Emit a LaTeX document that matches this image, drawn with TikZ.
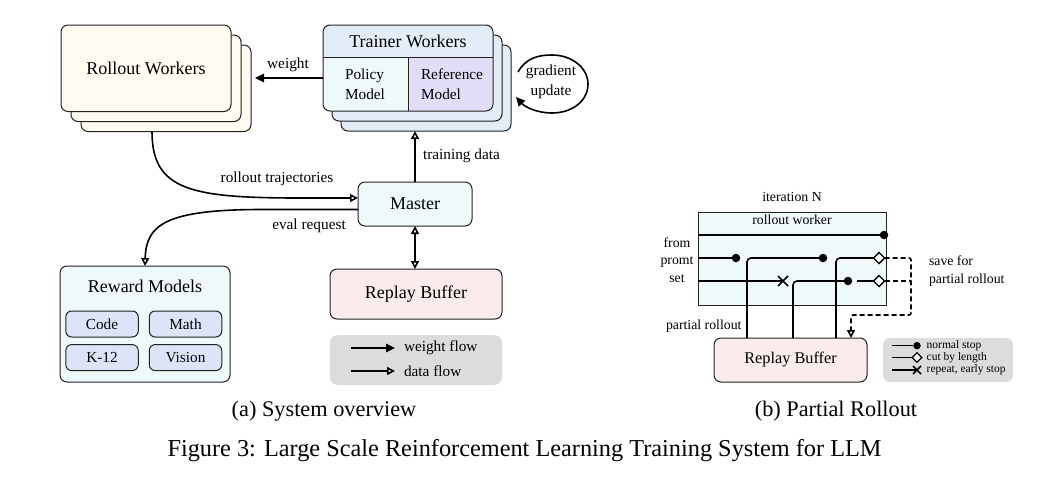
\documentclass[tikz,border=0pt]{standalone}
\usepackage{fontspec}
\setmainfont{Liberation Serif}
\usetikzlibrary{arrows.meta,shapes.geometric,shapes.misc,calc}
\definecolor{creambg}{HTML}{FFFBF0}
\definecolor{trhdr}{HTML}{E2EDF7}
\definecolor{cyanbg}{HTML}{F0F9F9}
\definecolor{refbg}{HTML}{E2DDF7}
\definecolor{subbg}{HTML}{DCE5F7}
\definecolor{pinkbg}{HTML}{FAECEA}
\definecolor{legbg}{HTML}{DCDCDC}
\definecolor{edge}{HTML}{222222}
\newcommand\myfA{\fontsize{18}{21}\selectfont}
\newcommand\myfB{\fontsize{15.3}{20}\selectfont}
\newcommand\myfC{\fontsize{13.8}{17.5}\selectfont}
\newcommand\myfD{\fontsize{11.5}{13}\selectfont}
\newcommand\myfRb{\fontsize{16.3}{19}\selectfont}
\newcommand\myfE{\fontsize{22.3}{26}\selectfont}
\newcommand\myfF{\fontsize{24.3}{28}\selectfont}
\begin{document}
\begin{tikzpicture}[x=1pt,y=-1pt,
  every node/.style={inner sep=0pt, outer sep=0pt},
  box/.style={draw=edge, line width=1pt, rounded corners=7pt, anchor=north west},
  sbox/.style={draw=edge, line width=1pt, rounded corners=6pt, fill=subbg, minimum width=72.5pt, minimum height=26pt, font=\myfB},
  wflow/.style={line width=1.6pt, -{Triangle[length=9pt,width=8.5pt]}},
  dflow/.style={line width=1.6pt, -{Triangle[open,length=8pt,width=8pt]}},
  ddflow/.style={line width=1.6pt, {Triangle[open,length=8pt,width=8pt]}-{Triangle[open,length=8pt,width=8pt]}},
  pl/.style={line width=1.6pt},
  dotm/.style={circle, fill=black, minimum size=8.5pt},
  diam/.style={diamond, draw=black, fill=white, line width=1.4pt, minimum size=11pt},
  xm/.style={cross out, draw=black, line width=1.6pt, minimum size=10pt},
  dsh/.style={line width=1.6pt, dash pattern=on 5pt off 3pt}
]
\useasboundingbox (0,0) rectangle (1058,498);
\fill[white] (0,0) rectangle (1058,498);

% ---------- (a) System overview ----------
% Rollout workers stack
\node[box, fill=creambg, minimum width=170pt, minimum height=86.5pt] (r3) at (81,45) {};
\node[box, fill=creambg, minimum width=170pt, minimum height=86.5pt] (r2) at (71,35) {};
\node[box, fill=creambg, minimum width=170pt, minimum height=86.5pt, font=\myfA] (r1) at (61,25) {Rollout Workers};

% Trainer workers stack
\node[box, fill=trhdr, minimum width=170pt, minimum height=86pt] (t3) at (341,45) {};
\node[box, fill=trhdr, minimum width=170pt, minimum height=86pt] (t2) at (332,35) {};
\begin{scope}
  \clip[rounded corners=7pt] (323,25) rectangle (493,111);
  \fill[trhdr] (323,25) rectangle (493,57);
  \fill[cyanbg] (323,57) rectangle (408,111);
  \fill[refbg] (408,57) rectangle (493,111);
\end{scope}
\node[box, minimum width=170pt, minimum height=86pt] (tr) at (323,25) {};
\draw[draw=edge, line width=1pt] (tr.west |- 0,57) -- (tr.east |- 0,57);
\draw[draw=edge, line width=1pt] (408,57) -- (408 ,0 |- tr.south);
\node[font=\myfA] (trt) at (408,41) {Trainer Workers};
\node[anchor=west, align=left, font=\myfB] (pm) at (345,84) {Policy\\Model};
\node[anchor=west, align=left, font=\myfB] (rm) at (421,84) {Reference\\Model};

% gradient update loop
\node[align=center, font=\myfB] (gu) at (551,82) {gradient\\update};
\coordinate (gs) at (518,72);
\coordinate (ge) at (516,97);
\draw[line width=1.6pt, -{Triangle[length=9pt,width=8.5pt]}] (gs) .. controls (526,58) and (538,55) .. (552,55) .. controls (572,55) and (588,68) .. (588,84) .. controls (588,101) and (572,113) .. (552,113) .. controls (537,113) and (525,107) .. (ge);

% weight arrow
\coordinate (w0) at ([yshift=-10pt]tr.west);
\draw[wflow] (w0) -- ([xshift=4pt]w0 -| r3.east);
\node[font=\myfB] (wl) at (288,65) {weight};

% Master
\node[box, fill=cyanbg, minimum width=114pt, minimum height=44pt, font=\myfA] (ms) at (358,182) {Master};

% training data
\draw[dflow] (ms.north) -- (ms.north |- t3.south);
\node[anchor=west, font=\myfB] (tdl) at (423,156) {training data};

% rollout trajectories
\draw[dflow] ([xshift=-14pt]r3.south) .. controls (152,190) and (190,198) .. (300,198) -- ([yshift=6pt]ms.west);
\node[font=\myfB] (rtl) at (277,179) {rollout trajectories};

% Reward models
\node[box, fill=cyanbg, minimum width=170pt, minimum height=116pt] (rw) at (60,266) {};
\node[font=\myfA] (rwt) at (145,286) {Reward Models};
\node[sbox] (code) at (102,324) {Code};
\node[sbox] (math) at (185.5,324) {Math};
\node[sbox] (k12) at (102,357.6) {K-12};
\node[sbox] (vis) at (185.5,357.6) {Vision};

% eval request
\draw[dflow] ([yshift=-5.5pt]ms.west) -- (262,209.5) .. controls (165,209.5) and (146,225) .. (rw.north);
\node[font=\myfB] (erl) at (309,226) {eval request};

% Replay buffer (a)
\node[box, fill=pinkbg, minimum width=172pt, minimum height=50pt, font=\myfA] (rb1) at (330,269) {Replay Buffer};
\draw[ddflow] (ms.south) -- (ms.south |- rb1.north);

% legend (a)
\node[fill=legbg, rounded corners=8pt, minimum width=172pt, minimum height=50pt, anchor=north west] (lga) at (330,335) {};
\coordinate (lw0) at (351,348);
\coordinate (ld0) at (351,371);
\draw[wflow] (lw0) -- ++(44,0);
\draw[dflow] (ld0) -- ++(44,0);
\node[anchor=west, font=\myfB] (lwt) at (404,348) {weight flow};
\node[anchor=west, font=\myfB] (ldt) at (404,371) {data flow};

% ---------- (b) Partial rollout ----------
\node[font=\myfC] (itn) at (792,197) {iteration N};
\node[draw=edge, fill=cyanbg, line width=1pt, minimum width=188pt, minimum height=93pt, anchor=north west] (rwk) at (698,212) {};
\node[font=\myfC] (rwkt) at (792,219.5) {rollout worker};
\node[align=center, font=\myfC] (fps) at (677,260) {from\\promt\\set};
\node[anchor=west, align=left, font=\myfC] (sfp) at (929,271) {save for\\partial rollout};
\node[anchor=west, font=\myfC] (prl) at (666,326) {partial rollout};

\node[draw=edge, fill=pinkbg, rounded corners=7pt, line width=1pt, minimum width=153pt, minimum height=44pt, anchor=north west, font=\myfRb] (rb2) at (714,338) {Replay Buffer};

% markers
\node[dotm] (d1) at (884,235) {};
\node[dotm] (d2) at (736,258) {};
\node[dotm] (d3) at (823,258) {};
\node[diam] (m1) at (879,258) {};
\node[xm] (x1) at (783,281) {};
\node[dotm] (d4) at (848,281) {};
\node[diam] (m2) at (879,281) {};

% lines
\draw[pl] (rwk.west |- d1) -- (d1);
\draw[pl] (rwk.west |- d2) -- (d2);
\draw[pl] (rwk.west |- x1) -- (x1.center);
\draw[pl, rounded corners=4pt] (747,0 |- rb2.north) |- (d3);
\draw[pl, rounded corners=4pt] (836,0 |- rb2.north) |- (m1);
\draw[pl, rounded corners=4pt] (793,0 |- rb2.north) |- (d4);
\draw[pl] (857,281) -- (m2);
\draw[dsh, rounded corners=2pt, -{Triangle[open,length=8pt,width=8pt]}] (m1.east) -- (911,258) -- (911,315) -- (851,315) -- (851,0 |- rb2.north);
\draw[dsh] (m2.east) -- (911,281);

% legend (b)
\node[fill=legbg, rounded corners=7pt, minimum width=130pt, minimum height=44pt, anchor=north west] (lgb) at (883,338) {};
\node[circle, fill=black, minimum size=7.5pt] (ld1) at (917,345.7) {};
\node[diamond, draw=black, fill=white, line width=1.2pt, minimum size=9.5pt] (ld2) at (917,357.5) {};
\node[cross out, draw=black, line width=1.5pt, minimum size=8pt] (ld3) at (917,370) {};
\draw[line width=1.5pt] (891.7,345.7) -- (ld1);
\draw[line width=1.5pt] (891.7,357.5) -- (ld2);
\draw[line width=1.5pt] (891.7,370) -- (ld3.center);
\node[anchor=west, font=\myfD] (lt1) at (926.7,345.7) {normal stop};
\node[anchor=west, font=\myfD] (lt2) at (926.7,357.5) {cut by length};
\node[anchor=west, font=\myfD] (lt3) at (926.7,370) {repeat, early stop};

% ---------- captions ----------
\node[anchor=base, font=\myfE] (capa) at (324,416) {(a) System overview};
\node[anchor=base, font=\myfE] (capb) at (836,416) {(b) Partial Rollout};
\node[anchor=base, font=\myfF] (capf) at (524.5,456) {Figure 3: Large Scale Reinforcement Learning Training System for LLM};
\end{tikzpicture}
\end{document}
